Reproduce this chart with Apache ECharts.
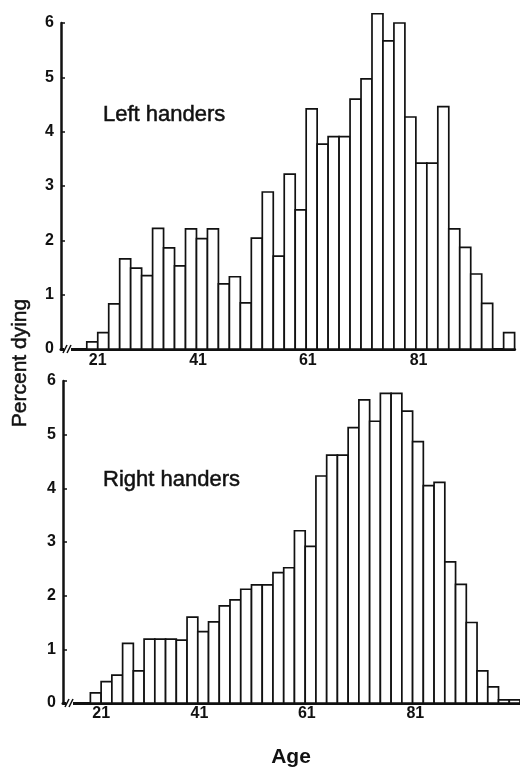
<!DOCTYPE html>
<html>
<head>
<meta charset="utf-8">
<script src="https://cdn.jsdelivr.net/npm/echarts@6/dist/echarts.min.js"></script>
<style>
html,body{margin:0;padding:0;background:#fff;}
#chart{width:520px;height:769px;}
</style>
</head>
<body>
<div id="chart"></div>
<script>
// Two-year age bins; each value is the bin's starting age (21, 23, ... )
var binStartsLeft = [21,23,25,27,29,31,33,35,37,39,41,43,45,47,49,51,53,55,57,59,61,63,65,67,69,71,73,75,77,79,81,83,85,87,89,91,93,95,97];
var leftHanders = [0.13,0.30,0.83,1.66,1.49,1.35,2.22,1.86,1.53,2.21,2.03,2.21,1.20,1.33,0.85,2.04,2.89,1.71,3.22,2.56,4.42,3.77,3.91,3.91,4.60,4.97,6.17,5.67,6.00,4.27,3.42,3.42,4.46,2.21,1.87,1.38,0.84,0.00,0.30];
var binStartsRight = [21,23,25,27,29,31,33,35,37,39,41,43,45,47,49,51,53,55,57,59,61,63,65,67,69,71,73,75,77,79,81,83,85,87,89,91,93,95,97,99];
var rightHanders = [0.19,0.40,0.52,1.11,0.60,1.19,1.19,1.19,1.17,1.60,1.33,1.51,1.81,1.92,2.12,2.20,2.20,2.43,2.52,3.21,2.92,4.23,4.62,4.62,5.13,5.65,5.25,5.77,5.77,5.44,4.87,4.05,4.11,2.63,2.21,1.50,0.60,0.30,0.06,0.06];
var binWidth = 2;
var xTickPositions = [23, 41.3, 61.3, 81.5];
var xTickLabels = ['21', '41', '61', '81'];
var yTicks = [0, 1, 2, 3, 4, 5, 6];

var INK = '#111';
var FONT = '"Liberation Sans", Arial, Helvetica, sans-serif';

function toRows(starts, vals) {
  return starts.map(function (s, i) { return [s, s + binWidth, vals[i]]; });
}

function xAxisCfg(gridIndex, min, max, margin) {
  return {
    gridIndex: gridIndex, type: 'value', min: min, max: max,
    axisLine: { show: true, onZero: false, lineStyle: { color: INK, width: 3 } },
    axisTick: { show: false },
    splitLine: { show: false },
    axisLabel: {
      customValues: xTickPositions,
      formatter: function (v) {
        var i = xTickPositions.indexOf(v);
        return i >= 0 ? xTickLabels[i] : '';
      },
      color: INK, fontFamily: FONT, fontWeight: 'bold', fontSize: 16, margin: margin
    }
  };
}
function yAxisCfg(gridIndex) {
  return {
    gridIndex: gridIndex, type: 'value', min: yTicks[0], max: yTicks[yTicks.length - 1], interval: 1,
    axisLine: { show: true, lineStyle: { color: INK, width: 2.5 } },
    axisTick: { show: true, inside: true, length: 4, lineStyle: { color: INK, width: 1.5 } },
    splitLine: { show: false },
    axisLabel: { color: INK, fontFamily: FONT, fontWeight: 'bold', fontSize: 16, margin: 7 }
  };
}
function histSeries(idx, rows) {
  return {
    type: 'custom', xAxisIndex: idx, yAxisIndex: idx, data: rows,
    encode: { x: [0, 1], y: 2 }, clip: false, silent: true, animation: false, z: 2,
    renderItem: function (params, api) {
      var p0 = api.coord([api.value(0), 0]);
      var p1 = api.coord([api.value(1), api.value(2)]);
      return {
        type: 'rect',
        shape: { x: p0[0], y: p1[1], width: p1[0] - p0[0], height: p0[1] - p1[1] },
        style: { fill: '#fff', stroke: INK, lineWidth: 1.7 }
      };
    }
  };
}

var chart = echarts.init(document.getElementById('chart'), null, { renderer: 'canvas' });
var option = {
  backgroundColor: '#fff',
  animation: false,
  grid: [
    { left: 61, top: 23, width: 453.6, height: 326 },
    { left: 63, top: 381, width: 463, height: 322 }
  ],
  xAxis: [xAxisCfg(0, 16.3, 99, 4), xAxisCfg(1, 15.9, 101, 3)],
  yAxis: [yAxisCfg(0), yAxisCfg(1)],
  series: [histSeries(0, toRows(binStartsLeft, leftHanders)), histSeries(1, toRows(binStartsRight, rightHanders))]
};
chart.setOption(option);

// decorations: axis-break marks and texts
var g = [];
[0, 1].forEach(function (gi) {
  var p = chart.convertToPixel({ gridIndex: gi }, [gi === 0 ? 16.3 : 15.9, 0]);
  var x0 = p[0], y0 = p[1];
  g.push({ type: 'rect', shape: { x: x0 + 3, y: y0 - 3, width: 7, height: 6 }, style: { fill: '#fff' }, z: 100 });
  g.push({ type: 'line', shape: { x1: x0, y1: y0 + 0.5, x2: x0 + 4, y2: y0 + 0.5 }, style: { stroke: INK, lineWidth: 1.5 }, z: 101 });
  g.push({ type: 'line', shape: { x1: x0 + 2, y1: y0 + 4, x2: x0 + 6, y2: y0 - 4 }, style: { stroke: INK, lineWidth: 1.5 }, z: 101 });
  g.push({ type: 'line', shape: { x1: x0 + 6, y1: y0 + 4, x2: x0 + 10, y2: y0 - 4 }, style: { stroke: INK, lineWidth: 1.5 }, z: 101 });
});
function label(text, x, y, font, extra) {
  var o = { type: 'text', x: x, y: y, z: 101,
    style: { text: text, fill: INK, stroke: INK, lineWidth: 0.5, font: font, align: 'left', verticalAlign: 'middle' } };
  if (extra) { for (var k in extra) { if (k === 'style') { for (var s in extra.style) o.style[s] = extra.style[s]; } else o[k] = extra[k]; } }
  return o;
}
g.push(label('Left handers', 103, 115, '22px ' + FONT));
g.push(label('Right handers', 103, 480, '22px ' + FONT));
g.push(label('Percent dying', 20, 363, '21px ' + FONT, { rotation: Math.PI / 2, style: { align: 'center' } }));
g.push(label('Age', 291, 757, 'bold 21px ' + FONT, { style: { align: 'center', lineWidth: 0 } }));
chart.setOption({ graphic: g });
</script>
</body>
</html>
